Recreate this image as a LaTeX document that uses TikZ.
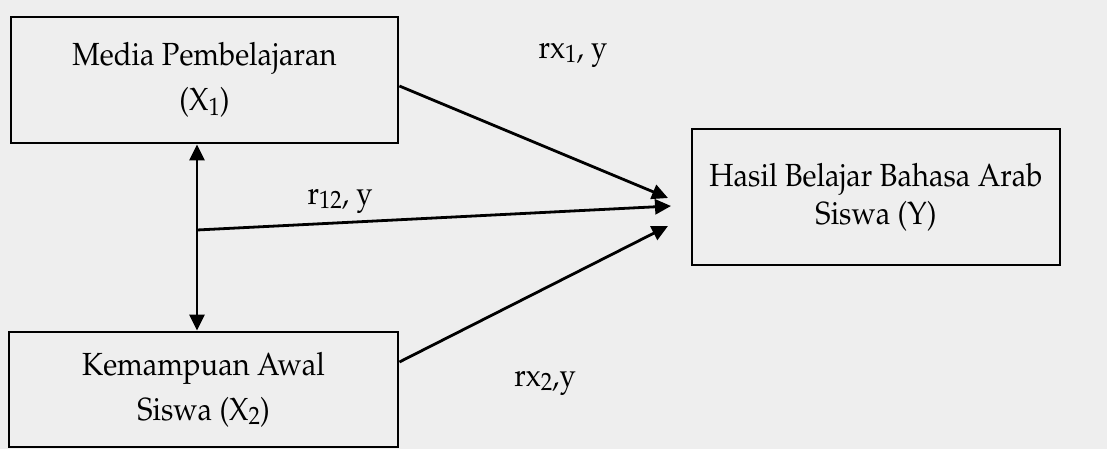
\documentclass[tikz,border=0pt]{standalone}
\usepackage[T1]{fontenc}
\usepackage{mathpazo}
\usepackage{graphicx}
\usetikzlibrary{arrows.meta}
\definecolor{paper}{RGB}{238,238,238}
\newcommand\sbs[1]{\raisebox{-0.3ex}{\fontsize{12.5}{13}\selectfont #1}}
\newcommand\nrw[1]{\scalebox{0.91}[1]{#1}}
\tikzset{
  box/.style={draw=black, line width=1.4pt, rectangle, inner sep=0pt, align=center,
    font=\fontsize{16}{22.5}\selectfont},
  conn/.style={line width=1.4pt, draw=black},
  tip/.style={-{Triangle[length=8pt,width=7.5pt]}},
  lbl/.style={font=\fontsize{16}{18}\selectfont, inner sep=0pt}
}
\begin{document}
\begin{tikzpicture}[x=0.5pt,y=-0.5pt]
\fill[paper] (0,0) rectangle (1107,449);
\useasboundingbox (0,0) rectangle (1107,449);
% boxes
\node[box, minimum width=193.5pt, minimum height=63pt] (x1) at (204.5,80)
  {\nrw{Media Pembelajaran}\\\nrw{(X\sbs{1})}};
\node[box, minimum width=184pt, minimum height=68pt, font=\fontsize{16}{19}\selectfont] (y) at (876,197)
  {\nrw{Hasil Belajar Bahasa Arab}\\\nrw{Siswa (Y)}};
\node[box, minimum width=194.5pt, minimum height=57.5pt] (x2) at (203.5,389.5)
  {\raisebox{-8pt}{\nrw{Kemampuan Awal}}\\\raisebox{-8pt}{\nrw{Siswa (X\sbs{2})}}};
% connector points
\coordinate (v) at (197,230);
\coordinate (ta) at (668,198);
\coordinate (tb) at (671,206);
\coordinate (tc) at (668,226);
% correlation line between X1 and X2
\draw[conn, {Triangle[length=8pt,width=7.5pt]}-{Triangle[length=8pt,width=7.5pt]}]
  (v |- x1.south) -- (v |- x2.north);
% paths to Y
\draw[conn, tip] ([yshift=-3pt]x1.east) -- (ta);
\draw[conn, tip] (v) -- (tb);
\draw[conn, tip] ([yshift=13.75pt]x2.east) -- (tc);
% labels
\node[lbl] (l1) at (573,55) {\nrw{rx\sbs{1}, y}};
\node[lbl] (l2) at (340,201) {\nrw{r\sbs{12}, y}};
\node[lbl] (l3) at (545,383) {\nrw{rx\sbs{2},y}};
\end{tikzpicture}
\end{document}
